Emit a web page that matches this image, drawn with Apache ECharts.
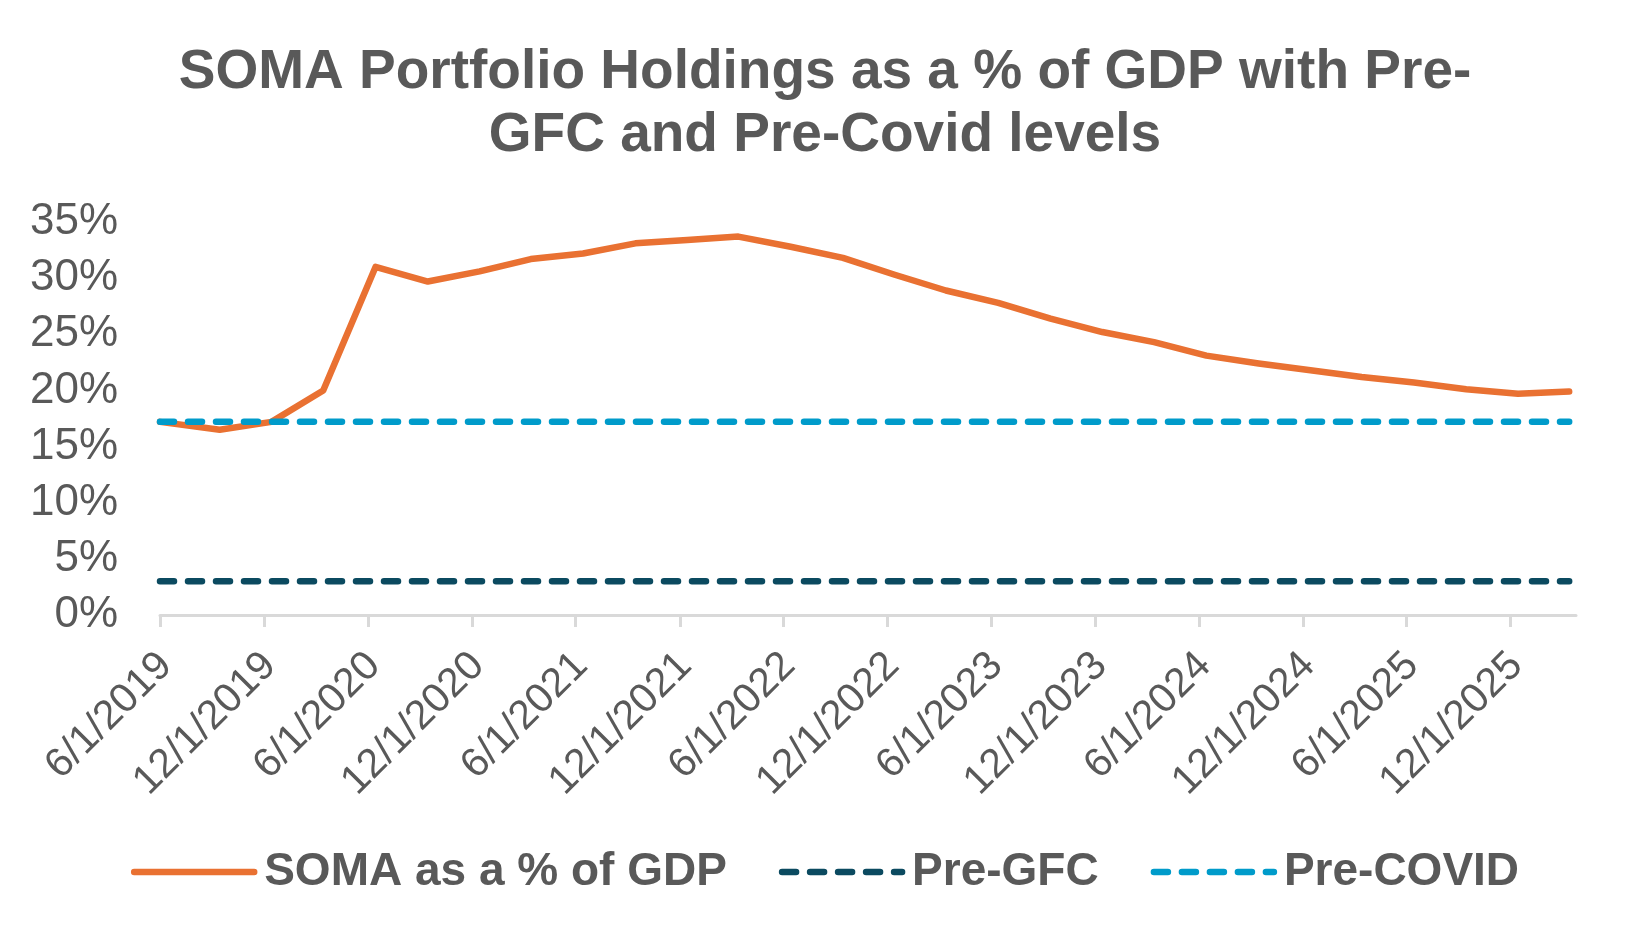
<!DOCTYPE html>
<html>
<head>
<meta charset="utf-8">
<title>SOMA Portfolio Holdings as a % of GDP</title>
<script src="https://cdn.jsdelivr.net/npm/echarts@6/dist/echarts.min.js"></script>
<style>
  html, body { margin: 0; padding: 0; background: #fff; }
  #soma-chart { width: 1650px; height: 938px; }
</style>
</head>
<body>
<div id="soma-chart"></div>
<script>
const dates = [
  '6/1/2019', '9/14/2019', '12/14/2019', '3/14/2020', '6/14/2020', '9/14/2020', '12/14/2020',
  '3/14/2021', '6/14/2021', '9/14/2021', '12/14/2021', '3/14/2022', '6/14/2022', '9/14/2022',
  '12/14/2022', '3/14/2023', '6/14/2023', '9/14/2023', '12/14/2023', '3/14/2024', '6/14/2024',
  '9/14/2024', '12/14/2024', '3/14/2025', '6/14/2025', '9/14/2025', '12/14/2025', '3/14/2026'
]
// SOMA holdings as % of GDP
const somaPct = [
  17.2, 16.5, 17.2, 20.0, 31.0, 29.7, 30.6,
  31.7, 32.2, 33.1, 33.4, 33.7, 32.8, 31.8,
  30.3, 28.9, 27.8, 26.4, 25.2, 24.3, 23.1,
  22.4, 21.8, 21.2, 20.7, 20.1, 19.7, 19.9
]
const preGfcLevel = 3.0
const preCovidLevel = 17.2
const preGfc = dates.map(() => preGfcLevel)
const preCovid = dates.map(() => preCovidLevel)

const xTickLabels = [
  '6/1/2019', '12/1/2019', '6/1/2020', '12/1/2020', '6/1/2021', '12/1/2021', '6/1/2022',
  '12/1/2022', '6/1/2023', '12/1/2023', '6/1/2024', '12/1/2024', '6/1/2025', '12/1/2025'
]
const xAxisEnd = '3/26/2026'
const yTicks = [0, 5, 10, 15, 20, 25, 30, 35]

// dates as plain day numbers so a value axis can place them
function toDay(s) {
  const p = s.split('/').map(Number)
  return Math.round(Date.UTC(p[2], p[0] - 1, p[1]) / 86400000)
}
function fmtDay(v) {
  const d = new Date(Math.round(v) * 86400000)
  return (d.getUTCMonth() + 1) + '/' + d.getUTCDate() + '/' + d.getUTCFullYear()
}

const font = 'Liberation Sans, Arial, sans-serif'
const textColor = '#595959'
const tickDays = xTickLabels.map(toDay)
const pairs = (vals) => dates.map((d, i) => [toDay(d), vals[i]])

const chart = echarts.init(document.getElementById('soma-chart'))
chart.setOption({
  animation: false,
  backgroundColor: '#ffffff',
  title: {
    text: 'SOMA Portfolio Holdings as a % of GDP with Pre-\nGFC and Pre-Covid levels',
    left: 'center',
    top: 36,
    textStyle: {
      fontFamily: font,
      fontSize: 55,
      fontWeight: 'bold',
      color: textColor,
      lineHeight: 63
    }
  },
  grid: {
    left: 160,
    right: 74,
    top: 222,
    bottom: 323,
    outerBoundsMode: 'none'
  },
  legend: {
    bottom: 38,
    left: 'center',
    itemWidth: 120,
    itemHeight: 8,
    itemGap: 52,
    itemStyle: { opacity: 0 },
    lineStyle: { width: 6.5, cap: 'round' },
    textStyle: {
      fontFamily: font,
      fontSize: 46,
      fontWeight: 'bold',
      color: textColor,
      padding: [0, 0, 0, 5]
    },
    data: ['SOMA as a % of GDP', 'Pre-GFC', 'Pre-COVID']
  },
  xAxis: {
    type: 'value',
    min: toDay(dates[0]),
    max: toDay(xAxisEnd),
    axisLine: { lineStyle: { color: '#d9d9d9', width: 3 } },
    axisTick: {
      customValues: tickDays,
      length: 12,
      lineStyle: { color: '#d9d9d9', width: 3 }
    },
    axisLabel: {
      customValues: tickDays,
      rotate: 45,
      margin: 50,
      padding: [0, -8, 0, 0],
      fontFamily: font,
      fontSize: 41,
      color: textColor,
      formatter: (v) => fmtDay(v)
    },
    splitLine: { show: false }
  },
  yAxis: {
    type: 'value',
    min: yTicks[0],
    max: yTicks[yTicks.length - 1],
    interval: 5,
    axisLine: { show: false },
    axisTick: { show: false },
    splitLine: { show: false },
    axisLabel: {
      formatter: '{value}%',
      margin: 42,
      fontFamily: font,
      fontSize: 44,
      color: textColor
    }
  },
  series: [
    {
      name: 'SOMA as a % of GDP',
      type: 'line',
      symbol: 'none',
      data: pairs(somaPct),
      color: '#e97132',
      lineStyle: { color: '#e97132', width: 6.5, cap: 'round', join: 'round' }
    },
    {
      name: 'Pre-GFC',
      type: 'line',
      symbol: 'none',
      data: pairs(preGfc),
      color: '#0b4a60',
      lineStyle: { color: '#0b4a60', width: 6.5, type: [14, 14], cap: 'round' }
    },
    {
      name: 'Pre-COVID',
      type: 'line',
      symbol: 'none',
      data: pairs(preCovid),
      color: '#009bca',
      lineStyle: { color: '#009bca', width: 6.5, type: [14, 14], cap: 'round' }
    }
  ]
})
</script>
</body>
</html>
